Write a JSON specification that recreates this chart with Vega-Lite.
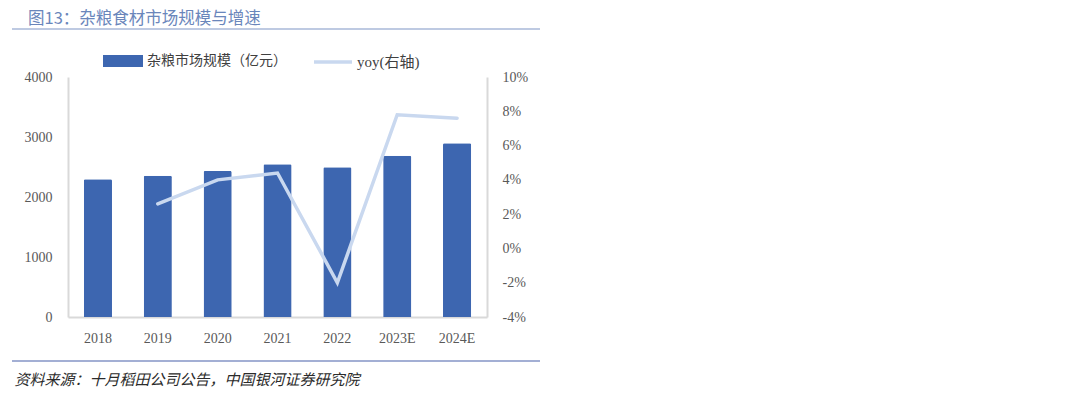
{
  "$schema": "https://vega.github.io/schema/vega-lite/v6.json",
  "autosize": {"type": "none"},
  "width": 419,
  "height": 240,
  "padding": {"left": 68, "top": 77, "right": 593, "bottom": 84},
  "background": "white",
  "config": {
    "view": {"stroke": null},
    "font": "Liberation Serif, Noto Sans CJK SC",
    "axis": {"labelFont": "Liberation Serif, Noto Sans CJK SC", "labelFontSize": 14, "labelColor": "#595959", "domainColor": "#d9d9d9", "domainWidth": 2, "ticks": false, "grid": false}
  },
  "title": {
    "text": "图13：杂粮食材市场规模与增速",
    "anchor": "start",
    "frame": "group",
    "dx": -40,
    "offset": 1,
    "font": "Noto Sans CJK SC",
    "fontSize": 16.5,
    "fontWeight": "normal",
    "color": "#6a86bb"
  },
  "data": {
    "values": [
      {"year": "2018", "size": 2295, "yoy": null},
      {"year": "2019", "size": 2355, "yoy": 2.6},
      {"year": "2020", "size": 2433, "yoy": 4.0},
      {"year": "2021", "size": 2545, "yoy": 4.4},
      {"year": "2022", "size": 2495, "yoy": -2.0},
      {"year": "2023E", "size": 2689, "yoy": 7.8},
      {"year": "2024E", "size": 2895, "yoy": 7.6}
    ]
  },
  "encoding": {
    "x": {
      "field": "year",
      "type": "ordinal",
      "sort": null,
      "scale": {"paddingInner": 0.53, "paddingOuter": 0.265},
      "axis": {
        "labelAngle": 0,
        "labelPadding": 14,
        "title": "资料来源：十月稻田公司公告，中国银河证券研究院",
        "titleFont": "Noto Sans CJK SC",
        "titleFontStyle": "italic",
        "titleFontWeight": "normal",
        "titleFontSize": 15,
        "titleColor": "#2b2b2b",
        "titleAnchor": "start",
        "titleAlign": "left",
        "titleBaseline": "middle",
        "titleX": -54,
        "titleY": 62
      }
    }
  },
  "layer": [
    {
      "mark": {"type": "bar", "cornerRadiusEnd": 1.5},
      "encoding": {
        "y": {
          "field": "size",
          "type": "quantitative",
          "scale": {"domain": [0, 4000]},
          "axis": {"orient": "left", "values": [0, 1000, 2000, 3000, 4000], "labelPadding": 16, "title": null, "format": "d"}
        },
        "color": {
          "field": "lab1",
          "type": "nominal",
          "scale": {"domain": ["杂粮市场规模（亿元）"], "range": ["#3d66b0"]},
          "legend": {
            "orient": "none",
            "legendX": 35,
            "legendY": -36,
            "title": null,
            "symbolType": "M-1,-0.3H1V0.3H-1Z",
            "symbolSize": 1600,
            "symbolStrokeWidth": 0,
            "labelFont": "Noto Sans CJK SC",
            "labelFontSize": 14,
            "labelColor": "#404040",
            "labelOffset": 4
          }
        }
      },
      "transform": [{"calculate": "'杂粮市场规模（亿元）'", "as": "lab1"}]
    },
    {
      "mark": {"type": "line", "strokeWidth": 3.5, "strokeCap": "round"},
      "transform": [{"calculate": "'yoy(右轴)'", "as": "lab2"}],
      "encoding": {
        "y": {
          "field": "yoy",
          "type": "quantitative",
          "scale": {"domain": [-4, 10]},
          "axis": {"orient": "right", "values": [-4, -2, 0, 2, 4, 6, 8, 10], "labelExpr": "datum.value + '%'", "labelPadding": 15, "title": null}
        },
        "stroke": {
          "field": "lab2",
          "type": "nominal",
          "scale": {"domain": ["yoy(右轴)"], "range": ["#c9d8ef"]},
          "legend": {
            "orient": "none",
            "legendX": 244,
            "legendY": -36,
            "title": null,
            "symbolType": "stroke",
            "symbolSize": 1444,
            "symbolStrokeWidth": 3.5,
            "labelFont": "Liberation Serif, Noto Sans CJK SC",
            "labelFontSize": 15,
            "labelColor": "#404040",
            "labelOffset": 3
          }
        }
      }
    },
    {
      "data": {"values": [{"k": "top"}]},
      "mark": {"type": "rule", "color": "#a9b9d9", "strokeWidth": 1.5},
      "encoding": {"x": {"value": -56}, "x2": {"value": 472}, "y": {"value": -48}}
    },
    {
      "data": {"values": [{"k": "bottom"}]},
      "mark": {"type": "rule", "color": "#8595c6", "strokeWidth": 1.5},
      "encoding": {"x": {"value": -56}, "x2": {"value": 472}, "y": {"value": 284}}
    }
  ],
  "resolve": {"scale": {"y": "independent", "color": "independent"}}
}
